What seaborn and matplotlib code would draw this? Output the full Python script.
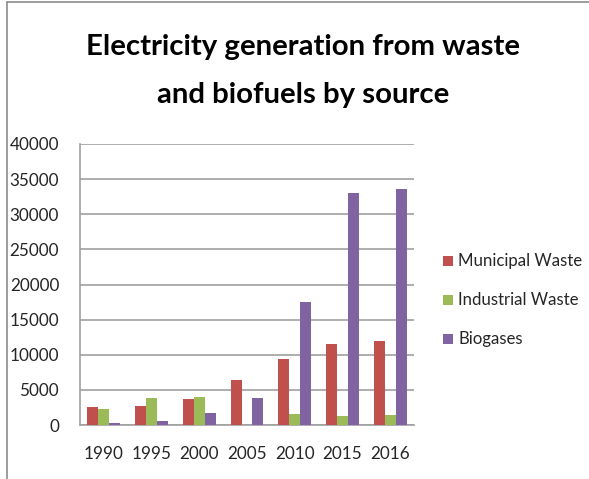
import matplotlib
matplotlib.use("Agg")
import matplotlib.pyplot as plt
import seaborn as sns
import pandas as pd
from matplotlib.patches import Rectangle

years = ["1990", "1995", "2000", "2005", "2010", "2015", "2016"]
municipal = [2500, 2650, 3700, 6450, 9450, 11600, 11900]
industrial = [2300, 3850, 4000, 0, 1550, 1300, 1450]
biogases = [250, 520, 1700, 3900, 17500, 33050, 33650]
series_names = ["Municipal Waste", "Industrial Waste", "Biogases"]
colors = ["#C0504D", "#9BBB59", "#8064A2"]

rows = []
for name, vals in zip(series_names, [municipal, industrial, biogases]):
    for y, v in zip(years, vals):
        rows.append({"year": y, "source": name, "value": v})
df = pd.DataFrame(rows)

sns.set_theme(style="white")
plt.rcParams['font.family'] = ['Lato', 'DejaVu Sans']

fig = plt.figure(figsize=(5.89, 4.79), dpi=100)
ax = fig.add_axes([80/589, 1-425/479, (414-80)/589, (425-144)/479])
sns.barplot(data=df, x="year", y="value", hue="source", palette=colors,
            width=0.69, ax=ax, legend=False, saturation=1, linewidth=0)
ax.set_ylim(0, 40000)
ax.set_yticks(range(0, 40001, 5000))
ax.set_xlim(-0.5, 6.5)
ax.yaxis.grid(True, color="#A0A0A0", linewidth=1.2)
ax.set_axisbelow(True)
for s in ["top", "right"]:
    ax.spines[s].set_visible(False)
for s in ["left", "bottom"]:
    ax.spines[s].set_color("#A0A0A0")
    ax.spines[s].set_linewidth(1.2)
    ax.spines[s].set_zorder(0.5)
ax.set_xlabel("")
ax.set_ylabel("")
ax.tick_params(axis="both", length=0, labelsize=12.3, colors="#262626")
ax.tick_params(axis="x", pad=15)
ax.tick_params(axis="y", pad=15)

fig.text(0.515, 1-47/479, "Electricity generation from waste", ha="center", va="center",
         fontsize=21.2, fontweight="bold", color="black")
fig.text(0.515, 1-95/479, "and biofuels by source", ha="center", va="center",
         fontsize=21.2, fontweight="bold", color="black")

legend_y = [261, 300, 339]
for name, c, yy in zip(series_names, colors, legend_y):
    fig.patches.append(Rectangle((443/589, 1-(yy+5)/479), 10/589, 10/479,
                                 transform=fig.transFigure, facecolor=c, edgecolor="none"))
    fig.text(458/589, 1-yy/479, name, ha="left", va="center", fontsize=12.1, color="#262626")

# outer border (top and left)
fig.add_artist(plt.Line2D([7/589, 7/589], [0, 1-2/479], transform=fig.transFigure, color="#8C8C8C", linewidth=1.2))
fig.add_artist(plt.Line2D([7/589, 1], [1-2/479, 1-2/479], transform=fig.transFigure, color="#8C8C8C", linewidth=1.2))

fig.savefig("out.png", dpi=100)
